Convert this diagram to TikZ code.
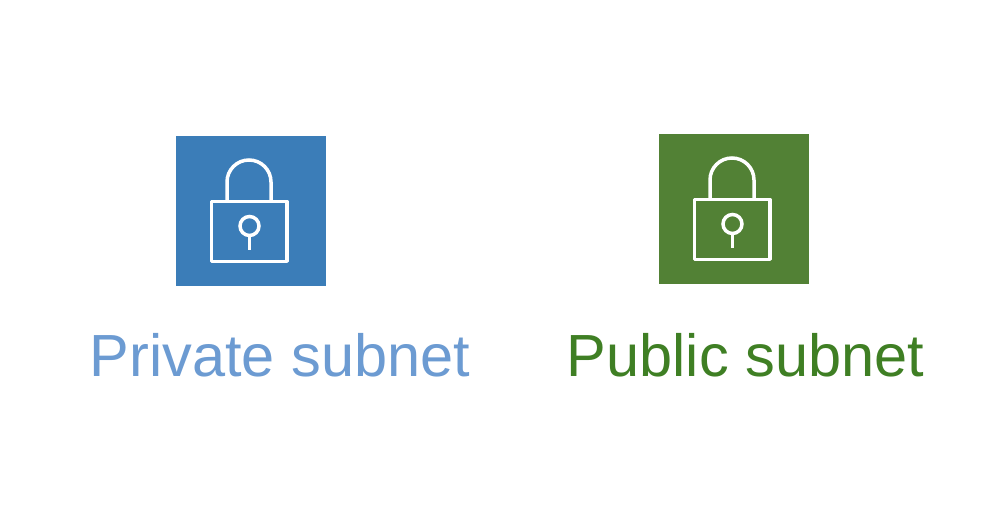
\documentclass[tikz,border=0pt]{standalone}
\usepackage{fontspec}
\usepackage{xcolor}
\setmainfont{Liberation Sans}
\definecolor{privfill}{RGB}{59,125,184}
\definecolor{pubfill}{RGB}{82,129,53}
\definecolor{privtext}{RGB}{108,155,210}
\definecolor{pubtext}{RGB}{63,127,36}
\tikzset{
  tile/.style={minimum size=150pt,inner sep=0pt,outer sep=0pt},
  caption/.style={inner sep=0pt,anchor=base,font=\fontsize{59.5pt}{60pt}\selectfont},
  padlock/.pic={
    \draw [white,line width=3.5pt,line join=round] (-39.3,-9.5) rectangle (36.2,50.3);
    \draw [white,line width=3.5pt] (-24,-9.5) -- (-24,-29) arc (180:360:22) -- (20,-9.5);
    \draw [white,line width=3.5pt] (-1.5,15) circle (9.5);
    \draw [white,line width=3.5pt] (-1.5,24.5) -- (-1.5,39);
  }
}
\begin{document}
\begin{tikzpicture}[x=1pt,y=-1pt]
    \useasboundingbox (0,0) rectangle (988,526);
    % private side
    \node [tile,fill=privfill] (privtile) at (251,211) {};
    \pic at (privtile.center) {padlock};
    \node [caption,text=privtext] (privlabel) at (280,377) {Private subnet};
    % public side
    \node [tile,fill=pubfill] (pubtile) at (734,209) {};
    \pic at (pubtile.center) {padlock};
    \node [caption,text=pubtext] (publabel) at (745.5,377) {Public subnet};
\end{tikzpicture}
\end{document}
